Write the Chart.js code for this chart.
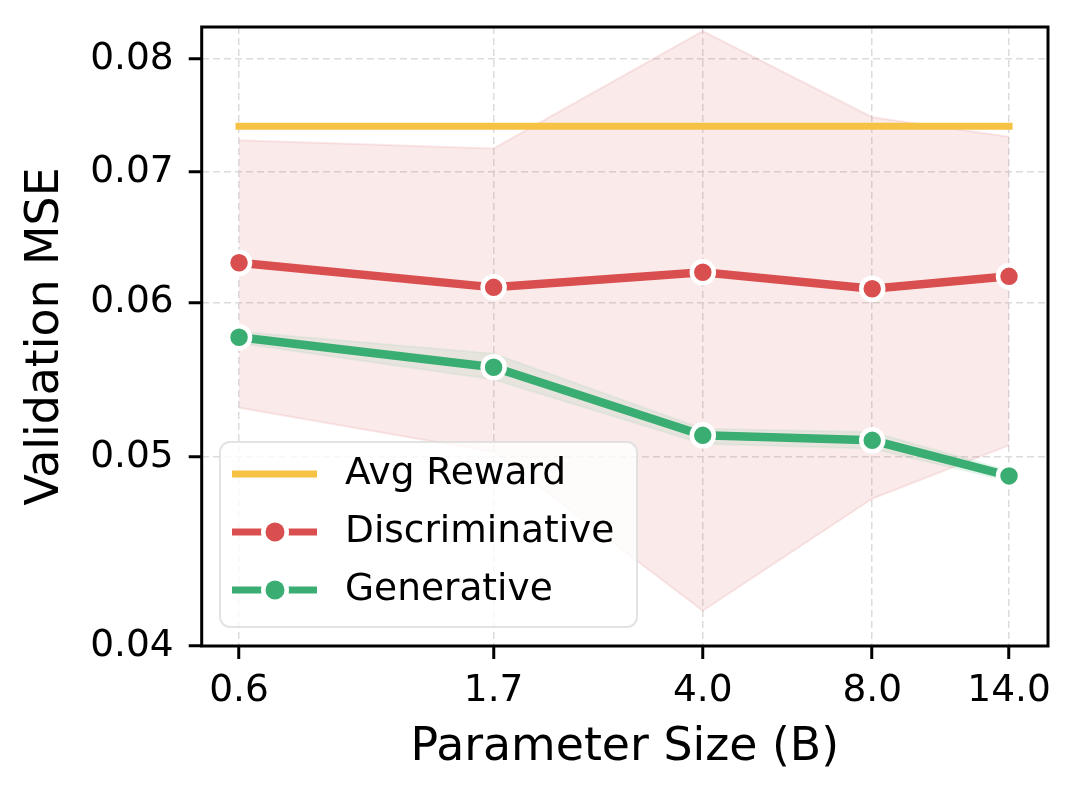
<!DOCTYPE html>
<html>
<head>
<meta charset="utf-8">
<title>Validation MSE vs Parameter Size</title>
<script src="https://cdn.jsdelivr.net/npm/chart.js@4.4.1/dist/chart.umd.min.js"></script>
<style>
  html, body { margin: 0; padding: 0; background: #ffffff; }
  canvas { display: block; }
</style>
</head>
<body>
<canvas id="chart" width="1080" height="801"></canvas>
<script>
// ========== data ==========
const sizes = [0.6, 1.7, 4.0, 8.0, 14.0];
const avgReward = [0.0739, 0.0739, 0.0739, 0.0739, 0.0739];

const discMean = [0.0629, 0.0611, 0.0622, 0.0610, 0.0619];
const discUpper = [0.0727, 0.0720, 0.0827, 0.0747, 0.0730];
const discLower = [0.0530, 0.0503, 0.0417, 0.0476, 0.0507];

const genMean = [0.0576, 0.0556, 0.0513, 0.0510, 0.0489];
const genUpper = [0.0580, 0.0565, 0.0517, 0.0515, 0.0492];
const genLower = [0.0572, 0.0548, 0.0508, 0.0505, 0.0486];

const xTicks = [0.6, 1.7, 4.0, 8.0, 14.0];
const yTicks = [0.04, 0.05, 0.06, 0.07, 0.08];

// ========== styles ==========
const YELLOW = "#f5c243";
const RED = "#d94f4f";
const GREEN = "#3aae72";
const FONT = "DejaVu Sans";

const pts = (vals) => sizes.map((x, i) => ({ x, y: vals[i] }));

// matplotlib style frame around the plot area
const framePlugin = {
  id: "frame",
  afterDraw(chart) {
    const { ctx, chartArea: a } = chart;
    ctx.save();
    ctx.strokeStyle = "#000";
    ctx.lineWidth = 3;
    ctx.strokeRect(a.left, a.top, a.right - a.left, a.bottom - a.top);
    ctx.restore();
  },
};

// legend drawn inside the axes, lower left
const legendPlugin = {
  id: "innerLegend",
  afterDraw(chart) {
    const { ctx } = chart;
    const items = chart.data.datasets.filter((d) => d.inLegend);
    const box = { x: 220, y: 442, w: 417, h: 185, r: 10 };
    ctx.save();
    ctx.beginPath();
    ctx.roundRect(box.x, box.y, box.w, box.h, box.r);
    ctx.fillStyle = "rgba(255,255,255,0.8)";
    ctx.fill();
    ctx.strokeStyle = "rgba(220,220,220,0.8)";
    ctx.lineWidth = 2;
    ctx.stroke();

    const rows = [474, 532, 590];
    items.forEach((d, i) => {
      const y = rows[i];
      ctx.strokeStyle = d.borderColor;
      ctx.lineWidth = 7;
      ctx.lineCap = "butt";
      ctx.beginPath();
      ctx.moveTo(232, y);
      ctx.lineTo(317, y);
      ctx.stroke();
      if (d.pointRadius > 0) {
        ctx.fillStyle = "#fff";
        ctx.beginPath();
        ctx.arc(275, y, 14, 0, Math.PI * 2);
        ctx.fill();
        ctx.fillStyle = d.borderColor;
        ctx.beginPath();
        ctx.arc(275, y, 9.5, 0, Math.PI * 2);
        ctx.fill();
      }
      ctx.fillStyle = "#000";
      ctx.font = "37.5px '" + FONT + "'";
      ctx.textAlign = "left";
      ctx.textBaseline = "middle";
      ctx.fillText(d.label, 345, y);
    });
    ctx.restore();
  },
};

new Chart(document.getElementById("chart").getContext("2d"), {
  type: "line",
  data: {
    datasets: [
      {
        label: "Avg Reward",
        inLegend: true,
        data: pts(avgReward),
        borderColor: YELLOW,
        borderWidth: 7,
        borderCapStyle: "square",
        pointRadius: 0,
        fill: false,
        order: 3,
      },
      {
        label: "Discriminative",
        inLegend: true,
        data: pts(discMean),
        borderColor: RED,
        backgroundColor: RED,
        borderWidth: 8.5,
        pointRadius: 11,
        pointBorderWidth: 4.5,
        pointBorderColor: "#ffffff",
        pointBackgroundColor: RED,
        fill: false,
        order: 2,
      },
      {
        label: "Generative",
        inLegend: true,
        data: pts(genMean),
        borderColor: GREEN,
        backgroundColor: GREEN,
        borderWidth: 8.5,
        pointRadius: 11,
        pointBorderWidth: 4.5,
        pointBorderColor: "#ffffff",
        pointBackgroundColor: GREEN,
        fill: false,
        order: 1,
      },
      {
        label: "disc upper",
        data: pts(discUpper),
        borderColor: "rgba(217,79,79,0.12)",
        borderWidth: 2,
        pointRadius: 0,
        backgroundColor: "rgba(217,79,79,0.12)",
        fill: "+1",
        order: 7,
      },
      {
        label: "disc lower",
        data: pts(discLower),
        borderColor: "rgba(217,79,79,0.12)",
        borderWidth: 2,
        pointRadius: 0,
        fill: false,
        order: 6,
      },
      {
        label: "gen upper",
        data: pts(genUpper),
        borderColor: "rgba(58,174,114,0.08)",
        borderWidth: 2,
        pointRadius: 0,
        backgroundColor: "rgba(58,174,114,0.1)",
        fill: "+1",
        order: 5,
      },
      {
        label: "gen lower",
        data: pts(genLower),
        borderColor: "rgba(58,174,114,0.08)",
        borderWidth: 2,
        pointRadius: 0,
        fill: false,
        order: 4,
      },
    ],
  },
  options: {
    responsive: false,
    animation: false,
    devicePixelRatio: 1,
    layout: { padding: { left: 0, right: 32, top: 27, bottom: 0 } },
    plugins: {
      legend: { display: false },
      tooltip: { enabled: false },
    },
    scales: {
      x: {
        type: "logarithmic",
        min: 0.515,
        max: 16.42,
        afterBuildTicks: (s) => {
          s.ticks = xTicks.map((v) => ({ value: v }));
        },
        afterFit: (s) => {
          s.height = 155;
          s.paddingLeft = 0;
          s.paddingRight = 0;
        },
        ticks: {
          autoSkip: false,
          maxRotation: 0,
          padding: 10,
          color: "#000",
          font: { family: FONT, size: 37.5 },
          callback: (v) => Number(v).toFixed(1),
        },
        grid: {
          color: "#dcdcdc",
          lineWidth: 1.5,
          tickColor: "#000",
          tickWidth: 3,
          tickLength: 13,
          tickBorderDash: [],
        },
        border: { display: false, dash: [7, 4] },
        title: {
          display: true,
          text: "Parameter Size (B)",
          color: "#000",
          font: { family: FONT, size: 45.8 },
          padding: { top: 0, bottom: 25.5 },
        },
      },
      y: {
        type: "logarithmic",
        min: 0.04,
        max: 0.0831,
        afterBuildTicks: (s) => {
          s.ticks = yTicks.map((v) => ({ value: v }));
        },
        afterFit: (s) => {
          s.width = 201.7;
          s.paddingTop = 0;
          s.paddingBottom = 0;
        },
        ticks: {
          autoSkip: false,
          padding: 15,
          color: "#000",
          font: { family: FONT, size: 37.5 },
          callback: (v) => Number(v).toFixed(2),
        },
        grid: {
          color: "#dcdcdc",
          lineWidth: 1.5,
          tickColor: "#000",
          tickWidth: 3,
          tickLength: 13,
          tickBorderDash: [],
        },
        border: { display: false, dash: [7, 4] },
        title: {
          display: true,
          text: "Validation MSE",
          color: "#000",
          font: { family: FONT, size: 45.8 },
          padding: { top: 18.5, bottom: 0 },
        },
      },
    },
  },
  plugins: [framePlugin, legendPlugin],
});
</script>
</body>
</html>
